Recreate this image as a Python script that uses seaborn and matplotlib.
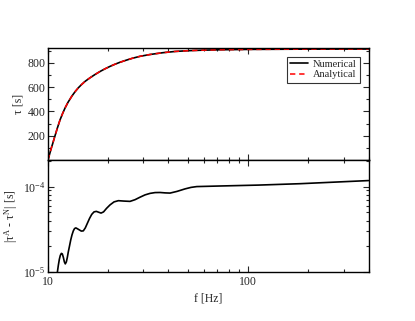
import numpy as np
import pandas as pd
import seaborn as sns
import matplotlib.pyplot as plt
from matplotlib.ticker import FixedLocator, LogLocator, NullFormatter

# tau(f)
f_tau = [10.0, 10.23, 10.43, 10.53, 10.84, 11.16, 11.48, 11.82, 12.16, 12.59,
         13.14, 13.65, 14.17, 14.71, 15.31, 16.22, 17.18, 18.20, 19.28, 20.42,
         21.63, 22.91, 24.27, 26.30, 28.84, 32.36, 37.58, 43.15, 49.55, 57.54,
         72.44, 102.3, 182.0, 400.0]
tau = [0, 60, 108, 130, 200, 268, 330, 382, 428, 476,
       525, 563, 595, 622, 648, 678, 705, 730, 752, 772,
       790, 806, 820, 838, 855, 870, 885, 895, 901, 905,
       909, 912, 914, 915]

# |tau_A - tau_N|
f_diff = [11.03, 11.13, 11.26, 11.39, 11.52, 11.66, 11.79, 11.93, 12.07, 12.20,
          12.35, 12.49, 12.63, 12.81, 12.99, 13.18, 13.38, 13.57, 13.77, 14.01,
          14.34, 14.67, 15.01, 15.36, 15.72, 16.13, 16.54, 16.98, 17.44, 17.89,
          18.41, 18.95, 19.61, 20.42, 21.38, 22.47, 23.99, 25.70, 27.23, 28.84,
          30.55, 32.36, 34.28, 36.31, 38.46, 40.74, 44.16, 48.42, 51.88, 55.40,
          72.44, 112.6, 182.0, 400.0]
diff = [8.50e-6, 9.81e-6, 1.192e-5, 1.401e-5, 1.561e-5, 1.648e-5, 1.626e-5, 1.479e-5, 1.310e-5, 1.241e-5,
        1.310e-5, 1.479e-5, 1.716e-5, 2.017e-5, 2.372e-5, 2.716e-5, 3.025e-5, 3.218e-5, 3.280e-5, 3.209e-5,
        3.107e-5, 3.008e-5, 3.025e-5, 3.280e-5, 3.704e-5, 4.238e-5, 4.722e-5, 5.051e-5, 5.120e-5, 5.010e-5,
        4.890e-5, 5.051e-5, 5.553e-5, 6.104e-5, 6.616e-5, 6.834e-5, 6.761e-5, 6.707e-5, 7.022e-5, 7.511e-5,
        7.993e-5, 8.324e-5, 8.505e-5, 8.527e-5, 8.436e-5, 8.391e-5, 8.785e-5, 9.398e-5, 9.786e-5, 1.0e-4,
        1.016e-4, 1.041e-4, 1.081e-4, 1.176e-4]

sns.set_style("ticks")
plt.rcParams['font.family'] = ['Liberation Serif', 'DejaVu Serif']
plt.rcParams['mathtext.fontset'] = 'stix'
fs = 8.5

fig = plt.figure(figsize=(4.15, 3.21), dpi=100)
ax1 = fig.add_axes([0.1157, 0.5016, 0.7723, 0.3479])
ax2 = fig.add_axes([0.1157, 0.153, 0.7723, 0.3486], sharex=ax1)

df_tau = pd.DataFrame({'f': f_tau, 'tau': tau})
sns.lineplot(data=df_tau, x='f', y='tau', ax=ax1, color='black', lw=1.2,
             label='Numerical', estimator=None, sort=False)
sns.lineplot(data=df_tau, x='f', y='tau', ax=ax1, color='red', lw=1.1,
             label='Analytical', estimator=None, sort=False)
ax1.lines[1].set_dashes([3.5, 2.5])

df_diff = pd.DataFrame({'f': f_diff, 'diff': diff})
sns.lineplot(data=df_diff, x='f', y='diff', ax=ax2, color='black', lw=1.2,
             estimator=None, sort=False)

for ax in (ax1, ax2):
    ax.set_xscale('log')
    ax.set_xlim(10, 400)
    ax.tick_params(which='both', direction='in', top=True, right=True,
                   labelsize=fs, width=0.8, pad=2)
    ax.tick_params(which='major', length=4.5)
    ax.tick_params(which='minor', length=2.2)
    for s in ax.spines.values():
        s.set_linewidth(1.0)
        s.set_color('black')

ax1.set_ylim(0, 921)
ax1.yaxis.set_major_locator(FixedLocator([200, 400, 600, 800]))
ax1.yaxis.set_minor_locator(FixedLocator([100, 300, 500, 700, 900]))
ax1.tick_params(axis='x', labelbottom=False)
ax1.set_xlabel('')
ax1.set_ylabel('τ [s]', fontsize=fs, labelpad=2)

ax2.set_yscale('log')
ax2.set_ylim(1e-5, 2.05e-4)
ax2.yaxis.set_major_locator(LogLocator(base=10, numticks=10))
ax2.yaxis.set_minor_locator(LogLocator(base=10, subs=np.arange(2, 10), numticks=10))
ax2.yaxis.set_minor_formatter(NullFormatter())
ax2.set_xticks([10, 100])
ax2.set_xticklabels(['10', '100'])
ax2.xaxis.set_minor_locator(LogLocator(base=10, subs=np.arange(2, 10), numticks=10))
ax2.xaxis.set_minor_formatter(NullFormatter())
ax2.tick_params(axis='x', pad=3)
ax2.set_xlabel('f [Hz]', fontsize=fs, labelpad=3)
ax2.set_ylabel(r'|τ$^{\mathregular{A}}$ - τ$^{\mathregular{N}}$| [s]', fontsize=fs, labelpad=2)

leg = ax1.legend(loc='upper right', bbox_to_anchor=(0.9735, 0.925), fontsize=7.5,
                 frameon=True, fancybox=False, handlelength=1.7, borderpad=0.3,
                 labelspacing=0.1, handletextpad=0.5, borderaxespad=0)
leg.get_frame().set_edgecolor('black')
leg.get_frame().set_linewidth(0.8)

fig.savefig('out.png', dpi=100)
